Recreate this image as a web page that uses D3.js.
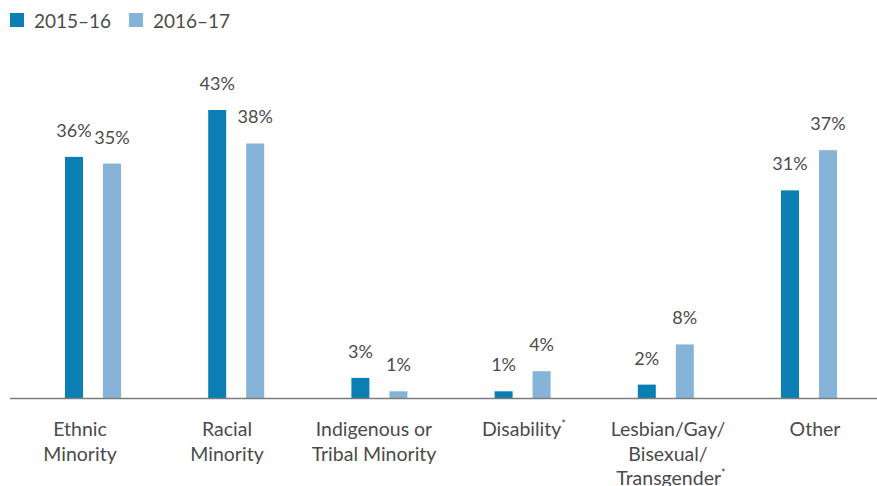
<!DOCTYPE html>
<html>
<head>
<meta charset="utf-8">
<script src="https://cdn.jsdelivr.net/npm/d3@7"></script>
<style>
  html, body { margin: 0; padding: 0; background: #fff; }
  svg { display: block; font-family: Lato, "Open Sans", sans-serif; }
</style>
</head>
<body>
<svg id="chart" width="877" height="486"></svg>
<script>
// Category labels (lines of each multi-line label; "*" marks a footnote)
const categories = ["Ethnic Minority", "Racial Minority", "Indigenous or Tribal Minority", "Disability", "LGBT", "Other"];
const categoryLines = [
  ["Ethnic", "Minority"],
  ["Racial", "Minority"],
  ["Indigenous or", "Tribal Minority"],
  ["Disability*"],
  ["Lesbian/Gay/", "Bisexual/", "Transgender*"],
  ["Other"]
];
const seriesNames = ["2015–16", "2016–17"];
const values2015 = [36, 43, 3, 1, 2, 31];
const values2016 = [35, 38, 1, 4, 8, 37];
const seriesColors = ["#0b7fb4", "#86b4d9"];

const svg = d3.select("#chart");
const textColor = "#4b4b4b";
const baseY = 398;

// bar groups and the category captions below them use slightly different spreads
const x = d3.scalePoint().domain(categories).range([93, 809]);
const xLabel = d3.scalePoint().domain(categories).range([80, 815]);
// two bars of 18px with a 20px gap between them
const xs = d3.scaleBand().domain(seriesNames).range([-28, 28]).paddingInner(20 / 38);
const y = d3.scaleLinear().domain([0, 43]).range([baseY, 110]);

const rows = categories.map((c, i) => ({ cat: c, vals: [values2015[i], values2016[i]] }));

// Bars and value labels
const groups = svg.selectAll("g.cat").data(rows).join("g")
  .attr("class", "cat")
  .attr("transform", d => `translate(${x(d.cat)},0)`);

const cells = d => d.vals.map((v, k) => ({ v, s: seriesNames[k], k }));

groups.selectAll("rect").data(cells).join("rect")
  .attr("x", d => xs(d.s))
  .attr("width", xs.bandwidth())
  .attr("y", d => y(d.v))
  .attr("height", d => y(0) - y(d.v))
  .attr("fill", d => seriesColors[d.k]);

groups.selectAll("text.val").data(cells).join("text")
  .attr("class", "val")
  .attr("x", d => xs(d.s) + xs.bandwidth() / 2)
  .attr("y", d => y(d.v) - 20)
  .attr("text-anchor", "middle")
  .attr("font-size", 18)
  .attr("fill", textColor)
  .text(d => d.v + "%");

// Baseline
svg.append("line")
  .attr("x1", 10).attr("x2", 877)
  .attr("y1", y(0) + 0.5).attr("y2", y(0) + 0.5)
  .attr("stroke", "#7d7d7d")
  .attr("stroke-width", 1.5);

// Category labels
const catLabels = svg.selectAll("text.cat").data(rows).join("text")
  .attr("class", "cat")
  .attr("text-anchor", "middle")
  .attr("font-size", 19.5)
  .attr("fill", textColor);

catLabels.each(function(d, i) {
  const t = d3.select(this);
  categoryLines[i].forEach((line, j) => {
    const star = line.endsWith("*");
    t.append("tspan")
      .attr("x", xLabel(d.cat) + (star ? 3 : 0))
      .attr("y", 436 + j * 24.5)
      .text(star ? line.slice(0, -1) : line);
    if (star) {
      t.append("tspan")
        .attr("dy", -8)
        .attr("font-size", 11)
        .text("*");
    }
  });
});

// Legend
const legend = svg.append("g").selectAll("g").data(seriesNames).join("g")
  .attr("transform", (d, i) => `translate(${10 + i * 119},13)`);
legend.append("rect")
  .attr("width", 14).attr("height", 14)
  .attr("fill", (d, i) => seriesColors[i]);
legend.append("text")
  .attr("x", 24).attr("y", 14.5)
  .attr("font-size", 19)
  .attr("fill", textColor)
  .text(d => d);
</script>
</body>
</html>
